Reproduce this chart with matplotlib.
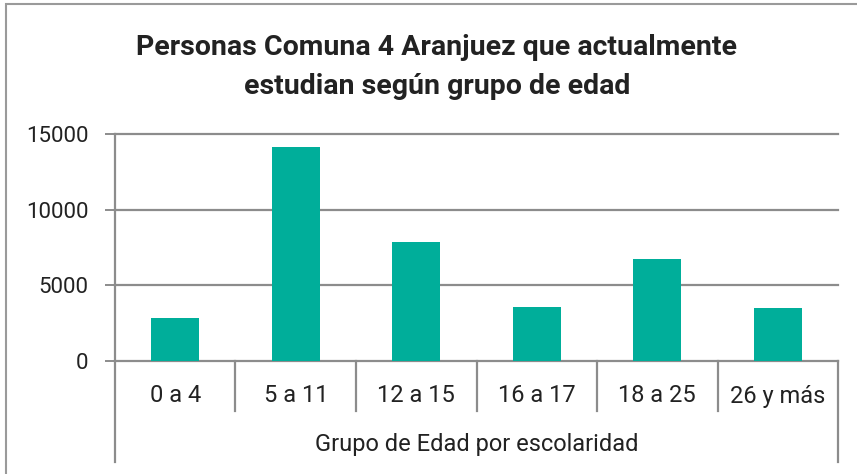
import matplotlib.pyplot as plt
from matplotlib.lines import Line2D
from matplotlib.patches import Rectangle

# datos
grupos = ["0 a 4", "5 a 11", "12 a 15", "16 a 17", "18 a 25", "26 y más"]
personas = [2850, 14150, 7850, 3570, 6750, 3500]
yticks = [0, 5000, 10000, 15000]

plt.rcParams['font.family'] = ['Roboto', 'DejaVu Sans']
gris = '#8c8c8c'
texto = '#222222'
verde = '#00ae9a'

fig = plt.figure(figsize=(8.57, 4.74), dpi=100)
ax = fig.add_axes([115/857, 1-361/474, (838-115)/857, (361-134)/474])

x = list(range(len(grupos)))
ax.bar(x, personas, width=0.4, color=verde, zorder=3)
ax.set_xlim(-0.5, len(grupos)-0.5)
ax.set_ylim(0, 15000)

ax.set_yticks(yticks)
ax.set_yticklabels([str(v) for v in yticks], fontsize=16, color=texto)
ax.tick_params(axis='y', length=7, width=1.4, color=gris, pad=12)
ax.set_xticks([])
for v in yticks:
    ax.axhline(v, color=gris, lw=1.6, zorder=1, clip_on=False)
for s in ['top', 'right', 'bottom', 'left']:
    ax.spines[s].set_visible(False)

# lineas del eje de categorias (en pixeles de figura)
H = 474
left, right, ybase = 115, 838, 361
cw = (right-left)/len(grupos)
fig.add_artist(Line2D([left/857]*2, [1-134/H, 1-462/H], color=gris, lw=1.6))
fig.add_artist(Line2D([right/857]*2, [1-ybase/H, 1-462/H], color=gris, lw=1.6))
for k in range(1, len(grupos)):
    xx = (left + cw*k)/857
    fig.add_artist(Line2D([xx, xx], [1-ybase/H, 1-411/H], color=gris, lw=1.6))
for k, g in enumerate(grupos):
    fig.text((left + cw*(k+0.5))/857, 1-396/H, g, ha='center', va='center',
             fontsize=17, color=texto)
fig.text((left+right)/2/857, 1-445/H, "Grupo de Edad por escolaridad",
         ha='center', va='center', fontsize=17, color=texto)

fig.text(437/857, 1-67/H, "Personas Comuna 4 Aranjuez que actualmente\nestudian según grupo de edad",
         ha='center', va='center', fontsize=20.5, fontweight='bold', color=texto,
         linespacing=1.55)

# marco exterior
fig.add_artist(Rectangle((6/857, -0.1), 1.2, 1-4/H+0.1, fill=False,
                         edgecolor='#9a9a9a', lw=1.5, transform=fig.transFigure))

fig.savefig("out.png", dpi=100)
